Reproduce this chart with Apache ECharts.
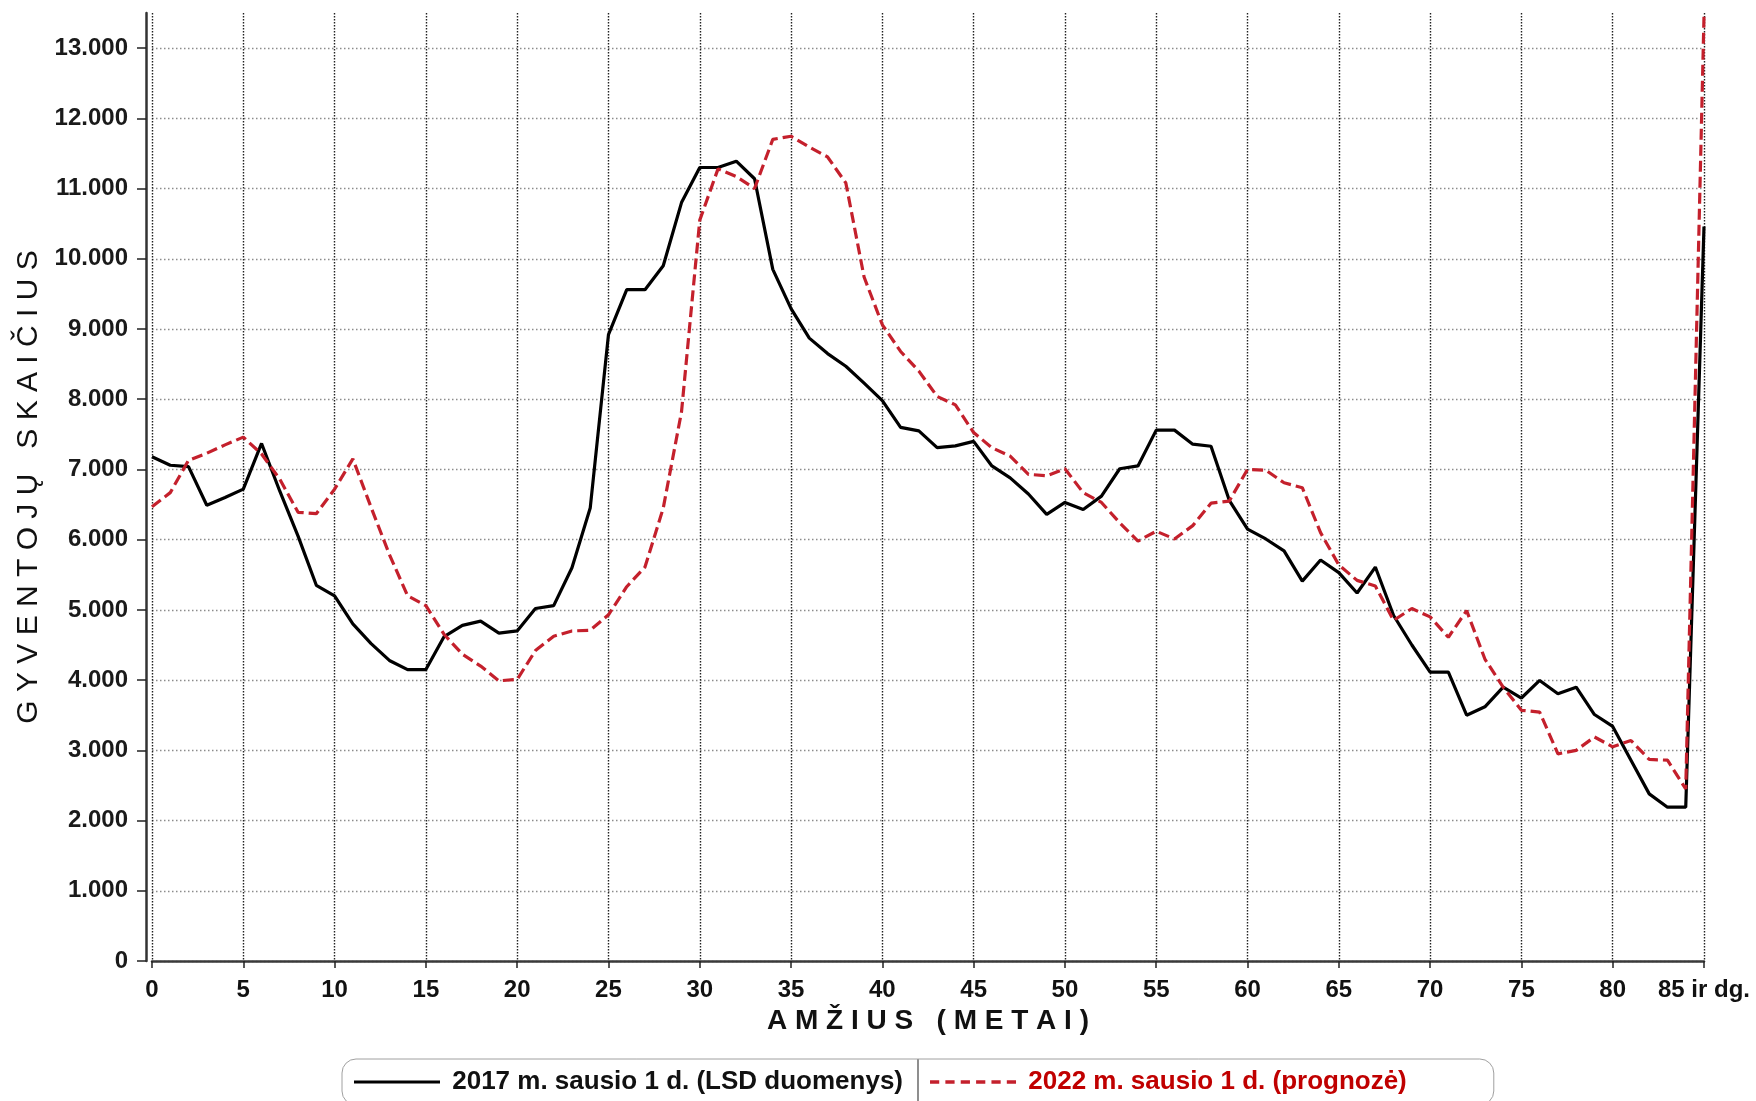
<!DOCTYPE html>
<html>
<head>
<meta charset="utf-8">
<script src="https://cdn.jsdelivr.net/npm/echarts@6/dist/echarts.min.js"></script>
<style>
html,body{margin:0;padding:0;background:#fff;}
#chart{width:1756px;height:1101px;}
</style>
</head>
<body>
<div id="chart"></div>
<script>
// Categories (age in years)
const ages = ['0','1','2','3','4','5','6','7','8','9','10','11','12','13','14','15','16','17','18','19',
  '20','21','22','23','24','25','26','27','28','29','30','31','32','33','34','35','36','37','38','39',
  '40','41','42','43','44','45','46','47','48','49','50','51','52','53','54','55','56','57','58','59',
  '60','61','62','63','64','65','66','67','68','69','70','71','72','73','74','75','76','77','78','79',
  '80','81','82','83','84','85 ir dg.'];

// 2017 m. sausio 1 d. (LSD duomenys)
const pop2017 = [7180,7060,7040,6490,6600,6720,7370,6690,6050,5350,
  5200,4800,4520,4280,4150,4150,4620,4780,4840,4670,
  4700,5020,5060,5600,6450,8920,9560,9560,9900,10800,
  11300,11300,11390,11140,9850,9290,8870,8650,8470,8230,
  7980,7600,7550,7310,7335,7400,7050,6880,6650,6360,
  6530,6430,6620,7010,7050,7560,7560,7360,7330,6560,
  6150,6010,5840,5410,5710,5530,5240,5610,4920,4500,
  4115,4115,3500,3620,3900,3745,3995,3805,3900,3510,
  3340,2860,2380,2190,2190,10460];

// 2022 m. sausio 1 d. (prognozė)
const pop2022 = [6470,6670,7130,7230,7350,7460,7220,6860,6390,6370,
  6720,7150,6460,5790,5200,5060,4650,4370,4200,3990,
  4010,4420,4625,4700,4710,4930,5330,5610,6450,7820,
  10550,11280,11170,11000,11700,11745,11590,11450,11080,9740,
  9060,8680,8400,8040,7920,7525,7310,7190,6930,6910,
  7010,6670,6530,6240,5980,6120,6010,6200,6520,6550,
  7000,6990,6810,6740,6100,5640,5420,5340,4850,5020,
  4900,4610,4990,4300,3900,3570,3545,2950,3000,3190,
  3050,3140,2870,2860,2450,13450];

const seriesNames = ['2017 m. sausio 1 d. (LSD duomenys)', '2022 m. sausio 1 d. (prognozė)'];
const yTicks = [0,1000,2000,3000,4000,5000,6000,7000,8000,9000,10000,11000,12000,13000];

const FONT = "'Liberation Sans', Arial, sans-serif";
const RED = '#c4202c';

const ySplitColors = yTicks.map(() => '#8c8c8c').concat(['rgba(0,0,0,0)']);

// legend icons (solid bar / dashed bar)
const solidIcon = 'path://M0,0h86v3.2h-86z';
let dashedIcon = 'path://';
for (let i = 0; i < 6; i++) { dashedIcon += 'M' + (i * 15) + ',0h9v3.2h-9z'; }

const chart = echarts.init(document.getElementById('chart'), null, {renderer: 'canvas'});
chart.setOption({
  backgroundColor: '#ffffff',
  animation: false,
  grid: {left: 152, right: 52, top: 13, bottom: 140, containLabel: false},
  xAxis: {
    type: 'category',
    data: ages,
    boundaryGap: false,
    name: 'A M Ž I U S   ( M E T A I )',
    nameLocation: 'middle',
    nameGap: 46,
    nameTextStyle: {fontFamily: FONT, fontSize: 28, fontWeight: 'bold', color: '#111'},
    axisLine: {show: true, lineStyle: {color: '#3a3a3a', width: 2.5}},
    axisTick: {show: true, interval: 4, length: 7, lineStyle: {color: '#222', width: 1.5}},
    axisLabel: {interval: 4, margin: 17, fontFamily: FONT, fontSize: 24, fontWeight: 'bold', color: '#111'},
    splitLine: {show: true, interval: 4, lineStyle: {color: '#222', width: 1.4, type: [1.4, 1.6]}}
  },
  yAxis: {
    type: 'value',
    min: 0,
    max: 13500,
    interval: 1000,
    offset: 6,
    name: 'G Y V E N T O J Ų   S K A I Č I U S',
    nameLocation: 'middle',
    nameGap: 100,
    nameRotate: 90,
    nameTextStyle: {fontFamily: FONT, fontSize: 30, color: '#111'},
    axisLine: {show: true, lineStyle: {color: '#333', width: 2.5}},
    axisTick: {show: true, length: 9, customValues: yTicks, lineStyle: {color: '#222', width: 1.5}},
    axisLabel: {
      margin: 18, fontFamily: FONT, fontSize: 24, fontWeight: 'bold', color: '#1a1a1a',
      customValues: yTicks,
      formatter: function (v) {
        if (v % 1000 !== 0) return '';
        return v === 0 ? '0' : (v / 1000) + '.000';
      }
    },
    splitLine: {show: true, lineStyle: {color: ySplitColors, width: 1.3, type: [1.5, 2.5]}}
  },
  legend: {
    left: 342,
    top: 1059,
    orient: 'horizontal',
    padding: [10, 87, 10, 12],
    itemGap: 27,
    itemWidth: 86,
    itemHeight: 20,
    borderColor: '#a0a0a0',
    borderWidth: 1,
    borderRadius: 14,
    formatter: function (name) { return ' ' + name; },
    textStyle: {fontFamily: FONT, fontSize: 26, fontWeight: 'bold', color: '#111'},
    data: [
      {name: seriesNames[0], icon: solidIcon, itemStyle: {color: '#000'}, textStyle: {color: '#111'}},
      {name: seriesNames[1], icon: dashedIcon, itemStyle: {color: RED}, textStyle: {color: '#c00000'}}
    ]
  },
  graphic: [{
    type: 'line',
    shape: {x1: 918, y1: 1059, x2: 918, y2: 1101},
    style: {stroke: '#444', lineWidth: 1.2},
    silent: true
  }],
  series: [
    {
      name: seriesNames[0],
      type: 'line',
      data: pop2017,
      symbol: 'none',
      smooth: false,
      lineStyle: {color: '#000', width: 3.2},
      itemStyle: {color: '#000'},
      z: 3
    },
    {
      name: seriesNames[1],
      type: 'line',
      data: pop2022,
      symbol: 'none',
      smooth: false,
      lineStyle: {color: RED, width: 3.2, type: [11, 5]},
      itemStyle: {color: RED},
      z: 4
    }
  ]
});
</script>
</body>
</html>
